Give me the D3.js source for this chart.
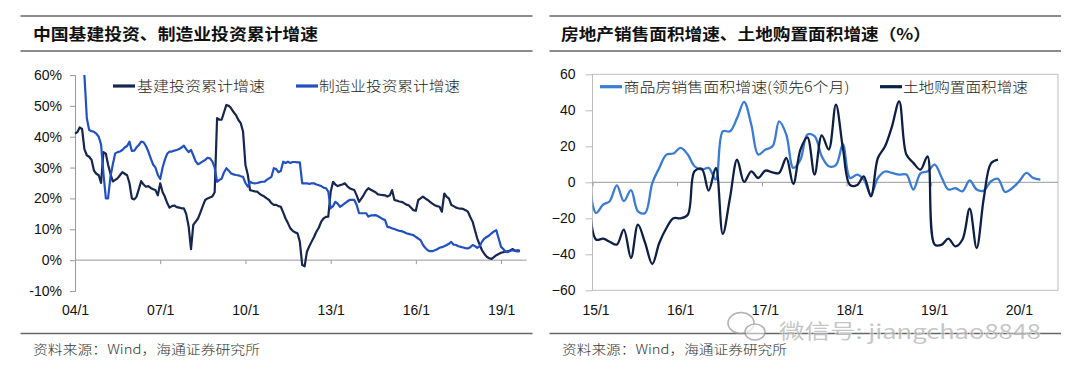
<!DOCTYPE html>
<html><head><meta charset="utf-8">
<script src="https://cdn.jsdelivr.net/npm/d3@7"></script>
<style>
html,body{margin:0;padding:0;background:#fff;}
svg{display:block;}
.cjk{font-family:"Noto Sans CJK SC","Noto Sans",sans-serif;}
.num{font-family:"Liberation Sans",Arial,sans-serif;}
</style></head>
<body><svg id="c" width="1080" height="371"></svg>
<script>
// ---------------- DATA ----------------
const leftTitle = "中国基建投资、制造业投资累计增速";
const rightTitle = "房地产销售面积增速、土地购置面积增速（%）";
const sourceText = "资料来源：Wind，海通证券研究所";

const infraName = "基建投资累计增速";
const mfgName = "制造业投资累计增速";
const infraStart = [2004, 0];
const infraValues = [41,41.5,43,42.5,36,34,33.5,32.5,29,28,
 27.5,25,35,34.5,31,28,25.5,26,26.5,27.5,
 28.5,28,27.5,25,20,19.7,20.5,23,25.6,24.5,
 23.8,24,23.4,23,22.7,21,24.9,22,20.6,18.5,
 17,17.5,17.7,17.2,17,16.8,16.8,15,11,3.6,
 11.4,12.5,13.5,15.5,17.5,19.5,20,20.3,20.6,22,
 46,45.5,45.5,48,50.3,50,49.2,48,47,45.5,
 44.4,41.7,30.8,27.6,22.7,22.5,22.3,22.2,21.5,21,
 20.6,20,19.5,18.5,17.9,17.9,17.5,17.3,15.5,13.5,
 12,10.3,9.5,9,8.7,6,-1.6,-2,2.7,4.5,
 6,7.5,9.2,10.5,12.5,13.5,14,14.1,22.2,25.4,
 24.5,24,24.3,24.5,24.9,24,23.3,23,22.7,21,
 18.9,20,21.1,22.5,23.3,22.8,22.4,22,21.3,21.2,
 21.1,21,20.6,21,22.7,19.5,19.3,19,18.9,18.5,
 18,17.8,17,16.2,16,19.5,20,20.6,20,19.5,
 18.9,18.3,17.8,17.5,17.3,15.7,21.6,20.5,20,17.9,
 17.5,17,16.8,16.7,16.6,16.2,15.7,14,12.4,9.5,
 7,5,3.2,2,1.1,0.6,0.4,1,1.6,2,
 2.4,2.6,2.8,2.9,3.2,3.6,3,3.2,3];
const mfgStart = [2004, 4];
const mfgValues = [60,46,42.2,41.8,41.6,41,40,37.5,28,20,
 20,27,31,34.6,35,35.2,35.7,36.5,37,38.4,
 35.4,35.5,36.5,37.3,38.4,38.2,37,35.2,33,31,
 30,27.6,26.3,30,32.5,34.5,35.2,35.2,35.5,35.7,
 36,36.5,37.1,36,35,35.7,34,32,31.1,31.5,
 32,32.5,33.2,33,32,30,25.4,26,26.4,28.5,
 29.8,29,28.1,27.8,27.6,27.5,27.2,27,25,23.8,
 25.4,25,24.9,25,25.2,25.4,25.4,26,26.5,27,
 29.8,29.5,28.5,28.9,31.9,31.5,31.9,31.5,31.8,31.8,
 31.7,31.7,24.9,24.9,24.9,24.7,24.9,24.9,24.5,24.3,
 24,23.5,23.3,22.2,16.8,17.5,18.9,18.3,17.3,17.8,
 18.4,19,19.5,19.5,19.5,17.9,15.2,15.2,15.2,15.2,
 14.1,14.5,14.5,14.6,14.2,13.8,13.3,13,10.8,10.6,
 10.3,10.1,9.8,9.5,9.4,9.1,8.7,8.5,8.3,8.1,
 7.5,7,6.5,5,4,3.2,2.9,2.9,3.2,3.5,
 4,4.2,4.5,4.9,5.3,5.9,5,4.9,4.5,4.3,
 4.1,3.9,3.8,4.2,4.9,4.5,4,4.5,6,7,
 7.5,8,8.7,9.3,9.7,7,4.3,3.5,2.7,2.6,
 3,3.2,3,2.8,2.9];
const leftTickYears = [2004,2007,2010,2013,2016,2019];
const leftTickLabels = ["04/1","07/1","10/1","13/1","16/1","19/1"];
const leftYTicks = [-10,0,10,20,30,40,50,60];

const salesName = "商品房销售面积增速(领先6个月)";
const landName = "土地购置面积增速";
const salesStart = [2014, 11];
const salesValues = [2,-17,-12.4,-10.5,-1.7,-10.5,-4.4,-16.1,-17,-0.4,
 8,15.4,16,19.1,15.4,8.9,7,8,1.5,28.3,
 28.3,35.8,44.7,32,15.4,18.2,20,33.9,26.5,8,
 12.6,26.5,25.6,14.4,8.9,9.6,21,2.4,4.3,1.5,
 -6.8,2.4,6,5.2,4.3,4.3,-4,5,6,9.8,
 2.4,-4,-3.3,-5,1.1,-4,-4.6,0.6,2,-5.4,
 -3.3,0.6,5.2,2.4,1.5];
const landStart = [2014, 11];
const landValues = [-8,-31.8,-31.3,-33,-34.6,-26.3,-42,-23.5,-33.7,-45.4,
 -33.7,-25.4,-20,-20,-18,6.1,7.5,-4.6,8,-28.7,
 -8.7,12.6,0.2,6.1,2.4,6.5,5.5,5.2,13.5,-0.9,
 18.2,25,4.3,26.1,18.2,43.2,19.1,-1.5,-1.5,3.3,
 -7.8,13.5,20,31.1,45,15.4,10.8,7,14.4,-34.6,
 -34.6,-31.3,-35.6,-31.8,-14.6,-36.5,-8.7,10.5,12.6];
const rightTickYears = [2015,2016,2017,2018,2019,2020];
const rightTickLabels = ["15/1","16/1","17/1","18/1","19/1","20/1"];
const rightYTicks = [-60,-40,-20,0,20,40,60];

const watermark = "微信号: jiangchao8848";

// ---------------- DRAW ----------------
const svg = d3.select("#c");
const C = {infra:"#16264f", mfg:"#2150c2", sales:"#3a7bd6", land:"#0e1f46", rule:"#666", axis:"#999"};

function monthly(start, vals, day){
  return vals.map((v,i)=>({d:new Date(start[0], start[1]+i, day), v}));
}

function panelFrame(x0, x1, title, tx, tlen, sx, slen){
  svg.append("line").attr("x1",x0).attr("x2",x1).attr("y1",16).attr("y2",16).attr("stroke",C.rule).attr("stroke-width",1.5);
  svg.append("line").attr("x1",x0).attr("x2",x1).attr("y1",51).attr("y2",51).attr("stroke",C.rule).attr("stroke-width",1.5);
  svg.append("line").attr("x1",x0).attr("x2",x1).attr("y1",333.5).attr("y2",333.5).attr("stroke",C.rule).attr("stroke-width",1.5);
  svg.append("text").attr("class","cjk").attr("x",tx).attr("y",34).attr("dy","0.35em")
    .attr("font-size",16).attr("font-weight",700).attr("fill","#111")
    .attr("textLength",tlen).attr("lengthAdjust","spacingAndGlyphs").text(title);
  svg.append("text").attr("class","cjk").attr("x",sx).attr("y",349).attr("dy","0.35em")
    .attr("font-size",13).attr("font-weight",300).attr("fill","#333")
    .attr("textLength",slen).attr("lengthAdjust","spacingAndGlyphs").text(sourceText);
}
panelFrame(20.5, 532.5, leftTitle, 33, 285, 33, 227);
panelFrame(549.5, 1061, rightTitle, 561, 370, 562, 225);

// ---------- LEFT CHART ----------
const xL = d3.scaleTime().domain([new Date(2004,0,1), new Date(2019,10,1)]).range([75, 524.7]);
const yL = d3.scaleLinear().domain([-10,60]).range([291, 75]);
const gL = svg.append("g");

const yAxL = d3.axisLeft(yL).tickValues(leftYTicks).tickSize(5).tickPadding(8).tickFormat(d=>d+"%");
const gyL = gL.append("g").attr("transform","translate(75,0)").call(yAxL);
gyL.select(".domain").attr("stroke",C.axis);
gyL.selectAll(".tick line").attr("stroke",C.axis);
gyL.selectAll("text").attr("class","num").attr("font-size",14).attr("fill","#111").attr("font-family",null);

const xAxL = d3.axisBottom(xL).tickValues(leftTickYears.map(y=>new Date(y,0,1)))
  .tickSize(4).tickPadding(41).tickFormat((d,i)=>leftTickLabels[i]);
const gxL = gL.append("g").attr("transform",`translate(0,${yL(0)})`).call(xAxL);
gxL.select(".domain").attr("stroke",C.axis).attr("d",`M75,0H526.5`);
gxL.selectAll(".tick line").attr("stroke",C.axis);
gxL.selectAll("text").attr("class","num").attr("font-size",14).attr("fill","#111").attr("font-family",null);

const lineL = d3.line().x(p=>xL(p.d)).y(p=>yL(p.v));
gL.append("path").datum(monthly(infraStart, infraValues, 1)).attr("d",lineL)
  .attr("fill","none").attr("stroke",C.infra).attr("stroke-width",2.2).attr("stroke-linejoin","round");
gL.append("path").datum(monthly(mfgStart, mfgValues, 1)).attr("d",lineL)
  .attr("fill","none").attr("stroke",C.mfg).attr("stroke-width",2.2).attr("stroke-linejoin","round");

function legend(x, y, color, label, tx, tlen){
  svg.append("line").attr("x1",x).attr("x2",x+22).attr("y1",y).attr("y2",y).attr("stroke",color).attr("stroke-width",3.2);
  svg.append("text").attr("class","cjk").attr("x",tx).attr("y",y).attr("dy","0.36em")
    .attr("font-size",14).attr("font-weight",300).attr("fill","#222")
    .attr("textLength",tlen).attr("lengthAdjust","spacingAndGlyphs").text(label);
}
legend(113, 86, C.infra, infraName, 137, 128);
legend(296, 86, C.mfg, mfgName, 319, 141);

// ---------- RIGHT CHART ----------
const xR = d3.scaleTime().domain([new Date(2015,0,1), new Date(2020,6,1)]).range([592.5, 1058]);
const yR = d3.scaleLinear().domain([-60,60]).range([290.3, 74.3]);
const gR = svg.append("g");
gR.append("rect").attr("x",592.5).attr("y",74.3).attr("width",1058-592.5).attr("height",290.3-74.3)
  .attr("fill","none").attr("stroke","#bdbdbd").attr("stroke-width",1);

const yAxR = d3.axisLeft(yR).tickValues(rightYTicks).tickSize(7).tickPadding(10);
const gyR = gR.append("g").attr("transform","translate(592.5,0)").call(yAxR);
gyR.select(".domain").remove();
gyR.selectAll(".tick line").attr("stroke","#bdbdbd");
gyR.selectAll("text").attr("class","num").attr("font-size",14).attr("fill","#111").attr("font-family",null);

const xAxR = d3.axisBottom(xR).tickValues(rightTickYears.map(y=>new Date(y,0,1)))
  .tickSize(4).tickPadding(119).tickFormat((d,i)=>rightTickLabels[i]);
const gxR = gR.append("g").attr("transform",`translate(0,${yR(0)})`).call(xAxR);
gxR.select(".domain").attr("stroke",C.axis).attr("d",`M592.5,0H1058`);
gxR.selectAll(".tick line").attr("stroke",C.axis);
gxR.selectAll("text").attr("class","num").attr("font-size",14).attr("fill","#111").attr("font-family",null).attr("dx",3);

svg.append("clipPath").attr("id","clipR").append("rect")
  .attr("x",592.5).attr("y",60).attr("width",1058-592.5).attr("height",240);
const lineR = d3.line().x(p=>xR(p.d)).y(p=>yR(p.v)).curve(d3.curveCatmullRom.alpha(0.5));
const gLines = gR.append("g").attr("clip-path","url(#clipR)");
gLines.append("path").datum(monthly(salesStart, salesValues, 16)).attr("d",lineR)
  .attr("fill","none").attr("stroke",C.sales).attr("stroke-width",2.3);
gLines.append("path").datum(monthly(landStart, landValues, 16)).attr("d",lineR)
  .attr("fill","none").attr("stroke",C.land).attr("stroke-width",2.3);

legend(600, 86.7, C.sales, salesName, 623.5, 226);
legend(880, 86.7, C.land, landName, 903, 125);

// ---------- WATERMARK ----------
const wm = svg.append("g").attr("opacity",0.75);
wm.append("ellipse").attr("cx",741).attr("cy",323).attr("rx",13).attr("ry",10.5)
  .attr("fill","rgba(255,255,255,0.6)").attr("stroke","#9a9a9a").attr("stroke-width",1.6);
wm.append("ellipse").attr("cx",755).attr("cy",332).attr("rx",10).attr("ry",8)
  .attr("fill","rgba(255,255,255,0.7)").attr("stroke","#9a9a9a").attr("stroke-width",1.6);
wm.append("text").attr("class","cjk").attr("x",779).attr("y",332).attr("dy","0.36em")
  .attr("font-size",20).attr("fill","#b4b4b4").attr("stroke","#fff").attr("stroke-width",1.1)
  .attr("paint-order","stroke")
  .attr("textLength",262).attr("lengthAdjust","spacingAndGlyphs").text(watermark);
</script></body></html>
